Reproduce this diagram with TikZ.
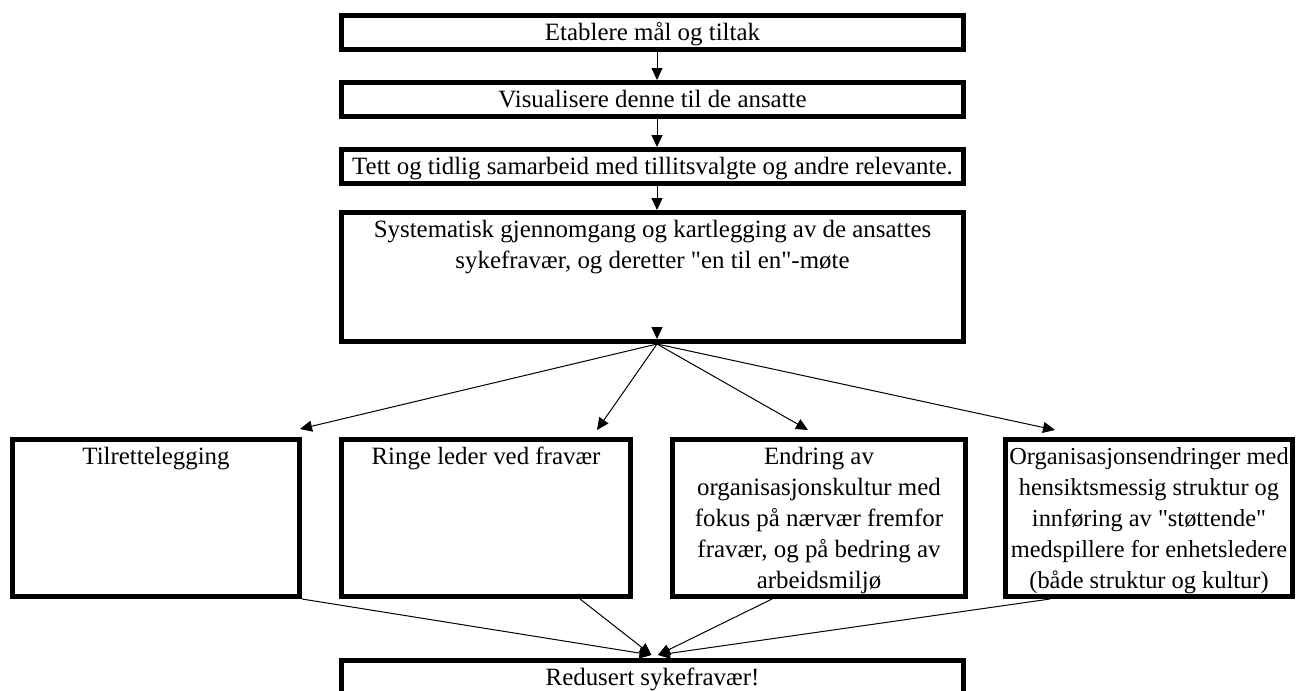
\documentclass[tikz,border=0pt]{standalone}
\usepackage{fontspec}
\setmainfont{Liberation Serif}
\usetikzlibrary{arrows.meta}
\newcommand{\boxtxt}[3]{\parbox[c][#2pt][t]{#1pt}{\centering\rule{0pt}{25pt}#3}}

\begin{document}
\begin{tikzpicture}[x=1pt, y=-1pt,
  box/.style={draw, line width=5pt, inner sep=0pt, font=\fontsize{24.9}{31}\selectfont},
  arr/.style={-{Triangle[length=12pt, width=11pt]}, line width=1pt}]
\useasboundingbox (0,0) rectangle (1299,691);
\clip (0,0) rectangle (1299,691);

% kjeden øverst
\node[box] (etablere) at (652.5,32.5) {\boxtxt{622}{34}{Etablere mål og tiltak}};
\node[box] (visual) at (652.5,99.5) {\boxtxt{622}{34}{Visualisere denne til de ansatte}};
\node[box] (samarbeid) at (652.5,166.5) {\boxtxt{622}{34}{Tett og tidlig samarbeid med tillitsvalgte og andre relevante.}};
\node[box] (kartlegg) at (652.5,277) {\boxtxt{622}{129}{Systematisk gjennomgang og kartlegging av de ansattes\\ sykefravær, og deretter \textquotedbl en til en\textquotedbl-møte}};

\draw[arr] ([xshift=4.5]etablere.south) -- ([xshift=4.5]visual.north);
\draw[arr] ([xshift=4.5]visual.south) -- ([xshift=4.5]samarbeid.north);
\draw[arr] ([xshift=4.5]samarbeid.south) -- ([xshift=4.5]kartlegg.north);
\draw[arr] ([xshift=4.5,yshift=17]kartlegg.south) -- ([xshift=4.5,yshift=5]kartlegg.south);

% tiltakene
\node[box] (tilrette) at (156,518) {\boxtxt{287}{157}{Tilrettelegging}};
\node[box] (ringe) at (486,518) {\boxtxt{289}{157}{Ringe leder ved fravær}};
\node[box] (endring) at (819,518) {\boxtxt{293}{157}{Endring av\\ organisasjonskultur med\\ fokus på nærvær fremfor\\ fravær, og på bedring av\\ arbeidsmiljø}};
\node[box] (organ) at (1149,518) {\boxtxt{287}{157}{\fontsize{24.4}{31}\selectfont Organisasjonsendringer med\\ hensiktsmessig struktur og\\ innføring av \textquotedbl støttende\textquotedbl\\ medspillere for enhetsledere\\ (både struktur og kultur)}};

\draw[arr] ([xshift=4.5]kartlegg.south) -- ([xshift=-2,yshift=8]tilrette.north east);
\draw[arr] ([xshift=4.5]kartlegg.south) -- ([xshift=-36,yshift=7]ringe.north east);
\draw[arr] ([xshift=4.5]kartlegg.south) -- ([xshift=-11,yshift=7]endring.north);
\draw[arr] ([xshift=4.5]kartlegg.south) -- ([xshift=52,yshift=7]organ.north west);

% resultatet
\node[box] (redusert) at (652.5,685.5) {\boxtxt{622}{50}{Redusert sykefravær!}};

\draw[arr] (tilrette.south east) -- ([xshift=-1,yshift=3]redusert.north);
\draw[arr] ([xshift=-53]ringe.south east) -- ([xshift=-1,yshift=3]redusert.north);
\draw[arr] ([xshift=-47]endring.south) -- ([xshift=5.5,yshift=3]redusert.north);
\draw[arr] ([xshift=47]organ.south west) -- ([xshift=5.5,yshift=3]redusert.north);
\end{tikzpicture}
\end{document}
